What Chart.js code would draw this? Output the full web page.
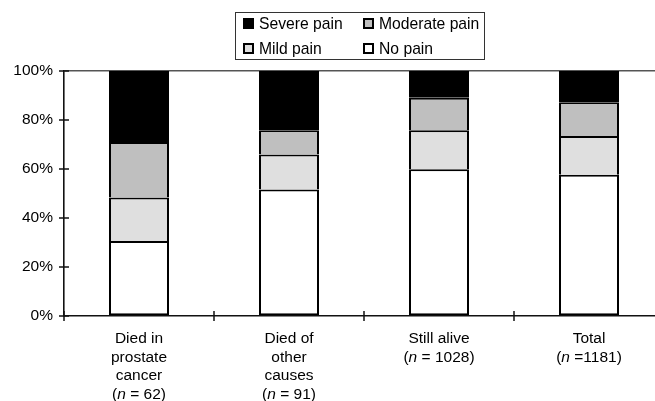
<!DOCTYPE html>
<html>
<head>
<meta charset="utf-8">
<script src="https://cdn.jsdelivr.net/npm/chart.js@4/dist/chart.umd.min.js"></script>
<style>
  html, body { margin: 0; padding: 0; overflow: hidden; background: #fff; width: 655px; height: 401px; }
  #wrap { position: absolute; left: 0; top: 0; width: 680px; height: 401px; }
  #legend { position: absolute; left: 235px; top: 12px; width: 250px; height: 48px; border: 1px solid #333; box-sizing: border-box; font-family: "Liberation Sans", Arial, sans-serif; font-size: 15.7px; color: #000; }
  .item { position: absolute; height: 16px; line-height: 16px; white-space: nowrap; }
  .sw { position: absolute; left: 0; top: 2px; width: 11px; height: 11px; border: 2px solid #000; box-sizing: border-box; }
  .lt { position: absolute; left: 16px; top: 0; }
</style>
</head>
<body>
<div id="wrap"><canvas id="c" width="680" height="401"></canvas></div>
<div id="legend"></div>
<script>
// ---- data ----
const categoryLines = [
  ["Died in", "prostate", "cancer", ["(", "n", " = 62)"]],
  ["Died of", "other", "causes", ["(", "n", " = 91)"]],
  ["Still alive", ["(", "n", " = 1028)"]],
  ["Total", ["(", "n", " =1181)"]]
];
const categories = ["Died in prostate cancer", "Died of other causes", "Still alive", "Total"];
const noPain   = [30.6, 51.6, 59.9, 57.7];
const mildPain = [17.8, 14.3, 15.9, 15.8];
const modPain  = [22.6,  9.9, 13.3, 13.7];
const sevPain  = [29.0, 24.2, 10.9, 12.8];
const yTicks = [0, 20, 40, 60, 80, 100];
const seriesNames = ["No pain", "Mild pain", "Moderate pain", "Severe pain"];
const seriesColors = ["#ffffff", "#dfdfdf", "#bfbfbf", "#000000"];
const legendOrder = [3, 2, 1, 0];

const FONT = '"Liberation Sans", Arial, sans-serif';
const seriesData = [noPain, mildPain, modPain, sevPain];

const datasets = seriesData.map((d, i) => ({
  label: seriesNames[i],
  data: d,
  backgroundColor: seriesColors[i],
  borderColor: "#000",
  borderWidth: { top: 2, left: 2, right: 2, bottom: i === 0 ? 2 : 0 },
  borderSkipped: false,
  barPercentage: 0.4,
  categoryPercentage: 1.0
}));

// legend (HTML)
const lg = document.getElementById("legend");
legendOrder.forEach((si, k) => {
  const col = k % 2, row = Math.floor(k / 2);
  const it = document.createElement("div");
  it.className = "item";
  it.style.left = (col === 0 ? 7 : 127) + "px";
  it.style.top = (row === 0 ? 3 : 28) + "px";
  const sw = document.createElement("div");
  sw.className = "sw";
  sw.style.background = seriesColors[si];
  const t = document.createElement("span");
  t.className = "lt";
  t.textContent = seriesNames[si];
  it.appendChild(sw); it.appendChild(t);
  lg.appendChild(it);
});

const customAxes = {
  id: "customAxes",
  afterDraw(chart) {
    const ctx = chart.ctx;
    const xs = chart.scales.x, ys = chart.scales.y;
    const ca = chart.chartArea;
    ctx.save();
    ctx.strokeStyle = "#111";
    ctx.lineWidth = 1.5;
    yTicks.forEach(v => {
      const y = ys.getPixelForValue(v);
      ctx.beginPath();
      ctx.moveTo(ca.left - 5, y);
      ctx.lineTo(ca.left + 5, y);
      ctx.stroke();
    });
    for (let i = 0; i <= categories.length; i++) {
      const x = xs.getPixelForValue(i - 0.5);
      ctx.beginPath();
      ctx.moveTo(x, ca.bottom - 5);
      ctx.lineTo(x, ca.bottom + 5);
      ctx.stroke();
    }
    ctx.fillStyle = "#000";
    ctx.textBaseline = "middle";
    const normal = "15.5px " + FONT, italic = "italic 15.5px " + FONT;
    categoryLines.forEach((lines, i) => {
      const cx = xs.getPixelForValue(i);
      lines.forEach((ln, j) => {
        const y = ca.bottom + 23 + j * 18.5;
        const segs = Array.isArray(ln) ? ln : [ln];
        const fonts = segs.map((s, k) => (Array.isArray(ln) && k === 1) ? italic : normal);
        let total = 0;
        const ws = segs.map((s, k) => { ctx.font = fonts[k]; const w = ctx.measureText(s).width; total += w; return w; });
        let x = cx - total / 2;
        ctx.textAlign = "left";
        segs.forEach((s, k) => { ctx.font = fonts[k]; ctx.fillText(s, x, y); x += ws[k]; });
      });
    });
    ctx.restore();
  }
};

new Chart(document.getElementById("c"), {
  type: "bar",
  data: { labels: categories, datasets },
  options: {
    responsive: false,
    animation: false,
    layout: { padding: { top: 71, right: 16, left: 0, bottom: 0 } },
    plugins: { legend: { display: false }, tooltip: { enabled: false } },
    scales: {
      x: {
        stacked: true,
        offset: true,
        grid: { display: false },
        ticks: { display: false },
        border: { display: true, color: "#111", width: 1.6 },
        afterFit(s) { s.height = 85; }
      },
      y: {
        stacked: true,
        min: 0, max: 100,
        afterBuildTicks(s) { s.ticks = yTicks.map(v => ({ value: v })); },
        ticks: { callback: v => v + "%", color: "#000", font: { size: 15.5, family: FONT }, padding: 11 },
        grid: { drawTicks: false, lineWidth: 1.6, color: c => (c.tick && c.tick.value === 100) ? "#555" : "rgba(0,0,0,0)" },
        border: { display: true, color: "#111", width: 1.6 },
        afterFit(s) { s.width = 64; }
      }
    }
  },
  plugins: [customAxes]
});
</script>
</body>
</html>
